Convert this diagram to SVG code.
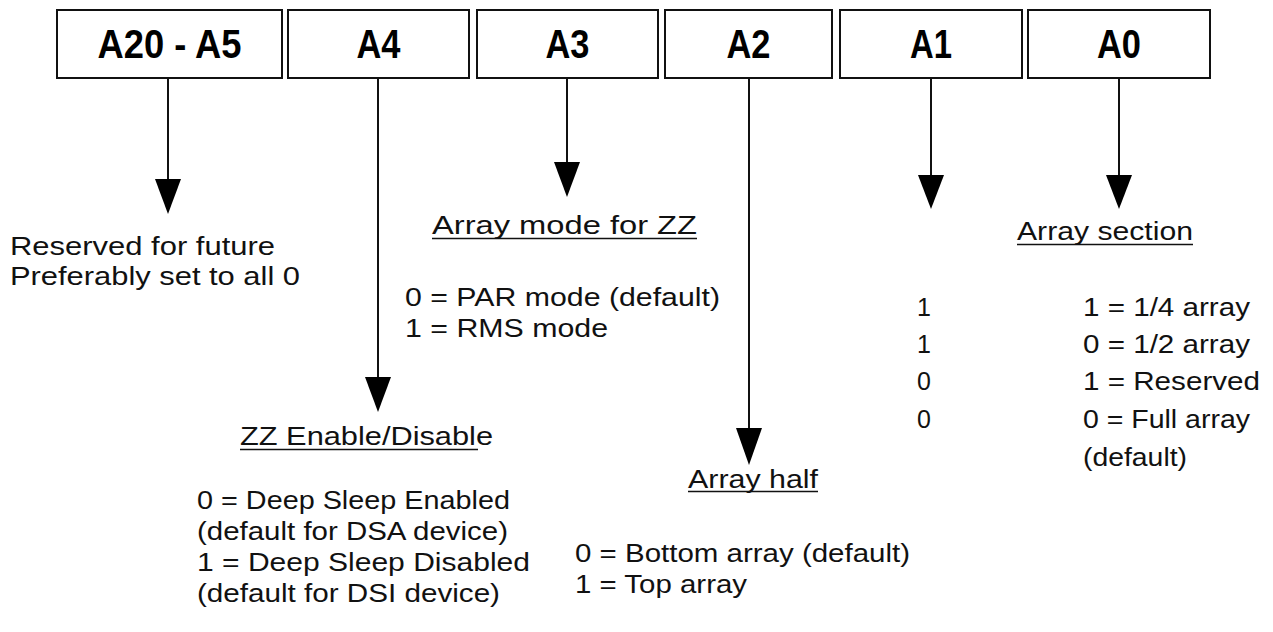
<svg xmlns="http://www.w3.org/2000/svg" width="1273" height="632" viewBox="0 0 1273 632">
<style>
.box{fill:#fff;stroke:#111;stroke-width:2}
.lbl{font-family:"Liberation Sans",Arial,sans-serif;font-weight:bold;font-size:40px;fill:#000;text-anchor:middle}
.t{font-family:"Liberation Sans",Arial,sans-serif;font-size:25px;fill:#111}
.ul{stroke:#111;stroke-width:1.5}
.conn{stroke:#111;stroke-width:2;fill:none}
.head{fill:#000}
</style>
<rect width="1273" height="632" fill="#fff"/>
<g id="node-a20-a5"><rect class="box" x="57" y="10" width="225" height="68"/><text class="lbl" x="169.5" y="58" textLength="144" lengthAdjust="spacingAndGlyphs">A20 - A5</text></g>
<g id="node-a4"><rect class="box" x="288" y="10" width="181" height="68"/><text class="lbl" x="378.5" y="58" textLength="44" lengthAdjust="spacingAndGlyphs">A4</text></g>
<g id="node-a3"><rect class="box" x="477" y="10" width="181" height="68"/><text class="lbl" x="567.5" y="58" textLength="44" lengthAdjust="spacingAndGlyphs">A3</text></g>
<g id="node-a2"><rect class="box" x="665" y="10" width="167" height="68"/><text class="lbl" x="748.5" y="58" textLength="44" lengthAdjust="spacingAndGlyphs">A2</text></g>
<g id="node-a1"><rect class="box" x="840" y="10" width="182" height="68"/><text class="lbl" x="931" y="58" textLength="42" lengthAdjust="spacingAndGlyphs">A1</text></g>
<g id="node-a0"><rect class="box" x="1028" y="10" width="182" height="68"/><text class="lbl" x="1119" y="58" textLength="44" lengthAdjust="spacingAndGlyphs">A0</text></g>
<g id="connectors">
<line class="conn" x1="168" y1="78" x2="168" y2="182"/><polygon class="head" points="155,179 181,179 168,214"/>
<line class="conn" x1="378" y1="78" x2="378" y2="380"/><polygon class="head" points="365,377 391,377 378,412"/>
<line class="conn" x1="567" y1="78" x2="567" y2="165"/><polygon class="head" points="554,162 580,162 567,197"/>
<line class="conn" x1="749" y1="78" x2="749" y2="431"/><polygon class="head" points="736,428 762,428 749,465"/>
<line class="conn" x1="931" y1="78" x2="931" y2="178"/><polygon class="head" points="918,175 944,175 931,209"/>
<line class="conn" x1="1119" y1="78" x2="1119" y2="178"/><polygon class="head" points="1106,175 1132,175 1119,209"/>
</g>
<g id="text-a20-a5">
<text class="t" x="10" y="255" textLength="265" lengthAdjust="spacingAndGlyphs">Reserved for future</text>
<text class="t" x="10" y="285" textLength="290" lengthAdjust="spacingAndGlyphs">Preferably set to all 0</text>
</g>
<g id="text-a3">
<text class="t" x="432" y="234" textLength="265" lengthAdjust="spacingAndGlyphs">Array mode for ZZ</text>
<line class="ul" x1="432" y1="238.5" x2="697" y2="238.5"/>
<text class="t" x="405" y="306" textLength="315" lengthAdjust="spacingAndGlyphs">0 = PAR mode (default)</text>
<text class="t" x="405" y="337" textLength="203" lengthAdjust="spacingAndGlyphs">1 = RMS mode</text>
</g>
<g id="text-a4">
<text class="t" x="240" y="445" textLength="253" lengthAdjust="spacingAndGlyphs">ZZ Enable/Disable</text>
<line class="ul" x1="240" y1="449.5" x2="478" y2="449.5"/>
<text class="t" x="197" y="509" textLength="313" lengthAdjust="spacingAndGlyphs">0 = Deep Sleep Enabled</text>
<text class="t" x="197" y="540" textLength="311" lengthAdjust="spacingAndGlyphs">(default for DSA device)</text>
<text class="t" x="197" y="571" textLength="333" lengthAdjust="spacingAndGlyphs">1 = Deep Sleep Disabled</text>
<text class="t" x="197" y="602" textLength="303" lengthAdjust="spacingAndGlyphs">(default for DSI device)</text>
</g>
<g id="text-a2">
<text class="t" x="688" y="488" textLength="130" lengthAdjust="spacingAndGlyphs">Array  half</text>
<line class="ul" x1="688" y1="491.5" x2="818" y2="491.5"/>
<text class="t" x="575" y="562" textLength="335" lengthAdjust="spacingAndGlyphs">0 = Bottom array (default)</text>
<text class="t" x="575" y="593" textLength="172" lengthAdjust="spacingAndGlyphs">1 = Top array</text>
</g>
<g id="text-a1">
<text class="t" x="917" y="316">1</text>
<text class="t" x="917" y="353">1</text>
<text class="t" x="917" y="390">0</text>
<text class="t" x="917" y="428">0</text>
</g>
<g id="text-a0">
<text class="t" x="1017" y="240" textLength="176" lengthAdjust="spacingAndGlyphs">Array section</text>
<line class="ul" x1="1017" y1="244.5" x2="1193" y2="244.5"/>
<text class="t" x="1083" y="316" textLength="167" lengthAdjust="spacingAndGlyphs">1 = 1/4 array</text>
<text class="t" x="1083" y="353" textLength="167" lengthAdjust="spacingAndGlyphs">0 = 1/2 array</text>
<text class="t" x="1083" y="390" textLength="177" lengthAdjust="spacingAndGlyphs">1 = Reserved</text>
<text class="t" x="1083" y="428" textLength="167" lengthAdjust="spacingAndGlyphs">0 = Full array</text>
<text class="t" x="1083" y="466" textLength="104" lengthAdjust="spacingAndGlyphs">(default)</text>
</g>
</svg>
